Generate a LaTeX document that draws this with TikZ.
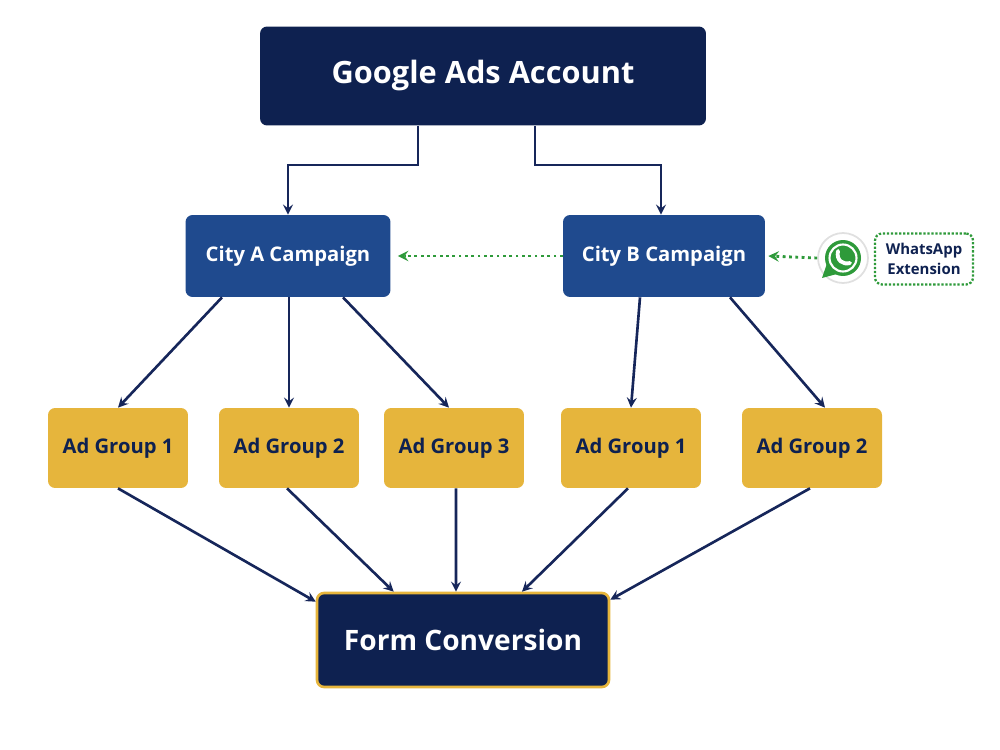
\documentclass[tikz,border=0pt]{standalone}
\usepackage{fontspec}
\setmainfont{Open Sans}
\usetikzlibrary{calc, positioning}
\definecolor{navyacc}{HTML}{0E2150}
\definecolor{bluecamp}{HTML}{1F4A8E}
\definecolor{goldgrp}{HTML}{E6B53C}
\definecolor{greenwa}{HTML}{2E9A3A}
\definecolor{edgegrp}{HTML}{16265A}

\tikzset{
  box/.style={rectangle, rounded corners=4pt, align=center, font=\bfseries, inner sep=0pt},
  account/.style={box, fill=navyacc, text=white, minimum width=8.92cm, minimum height=1.98cm, font=\bfseries\fontsize{17.5}{21}\selectfont},
  campaign/.style={box, fill=bluecamp, text=white, minimum width=4.1cm, minimum height=1.64cm, font=\bfseries\fontsize{11.5}{14}\selectfont},
  adgroup/.style={box, fill=goldgrp, text=navyacc, minimum width=2.8cm, minimum height=1.6cm, font=\bfseries\fontsize{11.5}{14}\selectfont},
  convert/.style={box, fill=navyacc, draw=goldgrp, line width=1.5pt, text=white, minimum width=5.84cm, minimum height=1.88cm, font=\bfseries\fontsize{16}{20}\selectfont},
  extbox/.style={box, draw=greenwa, densely dotted, line width=1.3pt, text=navyacc, minimum width=1.96cm, minimum height=1.02cm, font=\bfseries\fontsize{8.5}{11}\selectfont},
  flow/.style={-stealth, edgegrp, line width=1.5pt},
  dotflow/.style={-stealth, greenwa, line width=1.6pt, dotted}
}

\begin{document}
\begin{tikzpicture}[x=0.02cm, y=-0.02cm]
\useasboundingbox (0,0) rectangle (1000,750);

\node[account] (gads) at (483,76) {Google Ads Account};
\node[campaign] (cityA) at (288,256) {City A Campaign};
\node[campaign, minimum width=4.04cm] (cityB) at (664,256) {City B Campaign};

\node[adgroup] (agA1) at (118,448) {Ad Group 1};
\node[adgroup] (agA2) at (289,448) {Ad Group 2};
\node[adgroup] (agA3) at (454,448) {Ad Group 3};
\node[adgroup] (agB1) at (631,448) {Ad Group 1};
\node[adgroup] (agB2) at (812,448) {Ad Group 2};

\node[convert] (form) at (463,640) {Form Conversion};

% whatsapp badge
\node[circle, fill=white, draw=black!12, line width=1pt, minimum size=1.0cm] (wa) at (843,258) {};
\fill[greenwa] (wa.center) circle (0.36cm);
\fill[greenwa] ($(wa.center)+(-0.3cm,-0.05cm)$) -- ($(wa.center)+(-0.42cm,-0.4cm)$) -- ($(wa.center)+(-0.05cm,-0.3cm)$) -- cycle;
\draw[white, line width=1.2pt] (wa.center) circle (0.27cm);
\draw[white, line width=2.2pt, line cap=round] ($(wa.center)+(-0.1cm,0.14cm)$) .. controls ($(wa.center)+(-0.14cm,-0.05cm)$) and ($(wa.center)+(0.0cm,-0.14cm)$) .. ($(wa.center)+(0.14cm,-0.1cm)$);
\node[extbox] (waext) at (924,259) {WhatsApp\\Extension};

% account to campaigns
\draw[flow] ([xshift=-1.3cm]gads.south) -- ++(0,-0.78cm) -| (cityA.north);
\draw[flow] ([xshift=1.04cm]gads.south) -- ++(0,-0.78cm) -| ([xshift=-0.06cm]cityB.north);

\draw[dotflow] (cityB.west) -- ([xshift=0.14cm]cityA.east);
\draw[dotflow] (wa.west) -- ([xshift=0.06cm]cityB.east);

% campaigns to ad groups
\draw[flow] ([xshift=-1.32cm]cityA.south) -- (agA1.north);
\draw[flow] (cityA.south -| agA2.north) -- (agA2.north);
\draw[flow] ([xshift=1.1cm]cityA.south) -- ([xshift=-0.1cm]agA3.north);
\draw[flow] ([xshift=-0.48cm]cityB.south) -- (agB1.north);
\draw[flow] ([xshift=1.32cm]cityB.south) -- ([xshift=0.26cm]agB2.north);

% ad groups to conversion
\draw[flow] (agA1.south) -- ([yshift=-0.2cm]form.north west);
\draw[flow] ([xshift=-0.04cm]agA2.south) -- ([xshift=1.56cm]form.north west);
\draw[flow] ([xshift=0.04cm]agA3.south) -- ([xshift=-0.14cm]form.north);
\draw[flow] ([xshift=-0.06cm]agB1.south) -- ([xshift=1.18cm]form.north);
\draw[flow] ([xshift=-0.04cm]agB2.south) -- ([yshift=-0.16cm]form.north east);
\end{tikzpicture}
\end{document}
